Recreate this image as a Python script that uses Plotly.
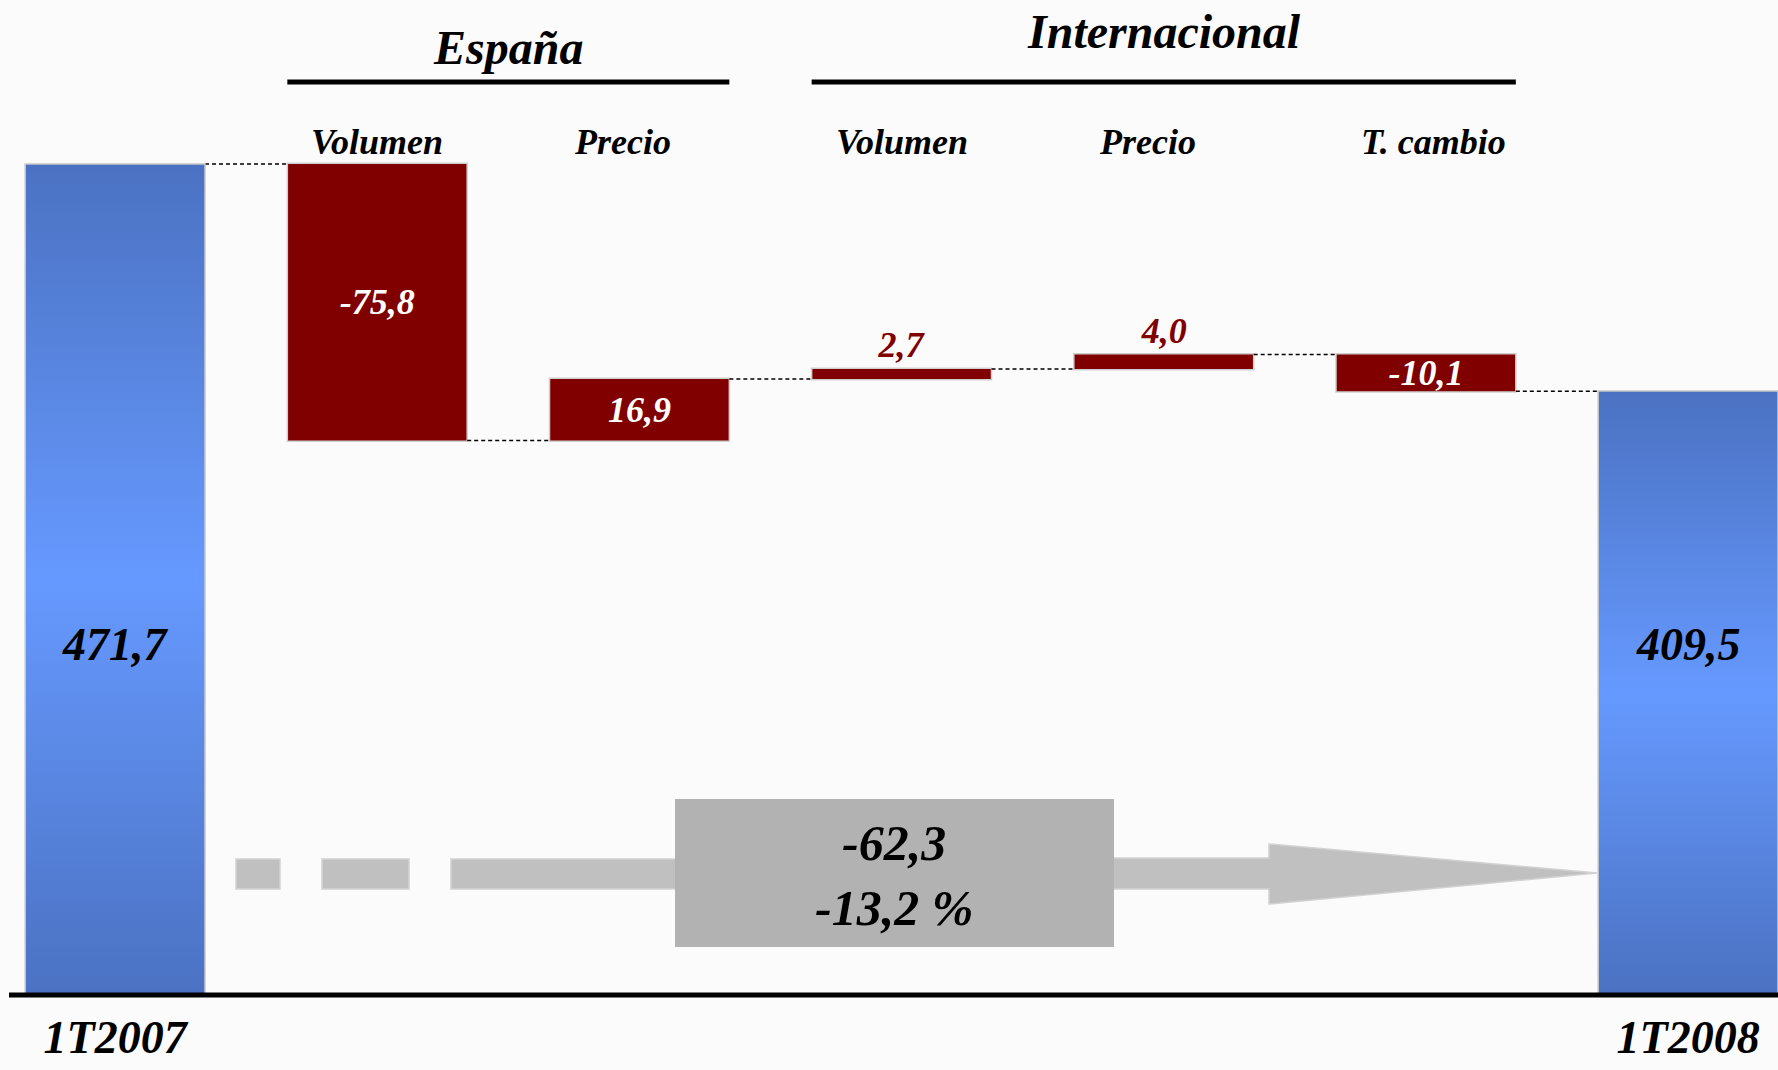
import plotly.graph_objects as go

# ---------------- data ----------------
CATEGORIES = ["1T2007", "Volumen", "Precio", "Volumen", "Precio", "T. cambio", "1T2008"]
START_VALUE = 471.7
CHANGES = [-75.8, 16.9, 2.7, 4.0, -10.1]
END_VALUE = 409.5
GROUPS = ["España", "Internacional"]
GROUP_MEMBERS = [[1, 2], [3, 4, 5]]
VARIATION = -62.3
VARIATION_PCT = -13.2

# ---------------- style / layout constants ----------------
W, H = 1778, 1070
MB = 76                     # bottom margin (room for the period labels)
PH = H - MB                 # plot height in px
BASE = 244.3                # value sitting on the baseline
Y_RANGE = [BASE, 516.6]
X_RANGE = [-0.439, 6.343]
BAR_W = 0.686
HW = BAR_W / 2
FONT = "Liberation Serif"
RED = "#800000"
BG = "#fcfbfb"
TOTAL_LABEL_Y = 340


def fmt(v):
    return f"{v:.1f}".replace(".", ",")


def xp(px):
    return px / W


def yp(py):
    return (PH - py) / PH


n = len(CATEGORIES)
xs = list(range(n))
measures = ["absolute"] + ["relative"] * len(CHANGES) + ["total"]
yvals = [START_VALUE] + CHANGES + [0]

texts = [""] + [fmt(c) for c in CHANGES] + [""]
# labels that fit inside the box stay inside (white); thin boxes get them above
positions = ["none"]
colors = ["white"]
for c in CHANGES:
    if abs(c) >= 9:
        positions.append("inside")
        colors.append("white")
    else:
        positions.append("outside")
        colors.append(RED)
positions.append("none")
colors.append("white")

fig = go.Figure()

fig.add_trace(go.Waterfall(
    x=xs, y=yvals, measure=measures,
    width=BAR_W,
    text=texts, textposition=positions,
    insidetextanchor="middle",
    constraintext="none",
    textfont=dict(family=FONT, size=36, color=colors, weight="bold", style="italic"),
    increasing=dict(marker=dict(color=RED, line=dict(color="#cfcfcf", width=1.5))),
    decreasing=dict(marker=dict(color=RED, line=dict(color="#cfcfcf", width=1.5))),
    totals=dict(marker=dict(color="rgba(0,0,0,0)", line=dict(width=0))),
    connector=dict(mode="between", line=dict(color="black", width=1.5, dash="4px,3px")),
    hoverinfo="skip",
    cliponaxis=False,
))

# gradient-filled total bars
for i, v in [(0, START_VALUE), (n - 1, END_VALUE)]:
    fig.add_trace(go.Scatter(
        x=[i - HW, i + HW, i + HW, i - HW, i - HW],
        y=[BASE, BASE, v, v, BASE],
        mode="lines", fill="toself",
        fillgradient=dict(type="vertical",
                          colorscale=[[0, "#4b72c2"], [0.5, "#6699ff"], [1, "#4b72c2"]]),
        line=dict(color="#c8c8c8", width=1.5),
        hoverinfo="skip",
    ))

annotations = []
shapes = []

# total labels
for i, v in [(0, START_VALUE), (n - 1, END_VALUE)]:
    annotations.append(dict(
        x=i, y=TOTAL_LABEL_Y, xref="x", yref="y", text=fmt(v), showarrow=False,
        font=dict(family=FONT, size=46, color="black", weight="bold", style="italic"),
    ))

# category labels above the columns
xshift = {1: 0, 2: -17, 3: 0, 4: -16, 5: 8}
for i in range(1, n - 1):
    annotations.append(dict(
        x=i, y=yp(142), xref="x", yref="paper", text=CATEGORIES[i], showarrow=False,
        xshift=xshift[i], yanchor="middle",
        font=dict(family=FONT, size=36, color="black", weight="bold", style="italic"),
    ))

# group headers with rules
group_y = [47, 31]
for g, members, gy in zip(GROUPS, GROUP_MEMBERS, group_y):
    x0 = min(members) - HW
    x1 = max(members) + HW
    shapes.append(dict(type="line", xref="x", yref="paper", x0=x0, x1=x1,
                       y0=yp(82), y1=yp(82), line=dict(color="black", width=5)))
    annotations.append(dict(
        x=(x0 + x1) / 2, y=yp(gy), xref="x", yref="paper", text=g, showarrow=False,
        yanchor="middle",
        font=dict(family=FONT, size=48, color="black", weight="bold", style="italic"),
    ))

# baseline rule
shapes.append(dict(type="line", xref="paper", yref="paper", x0=xp(9), x1=1,
                   y0=yp(995), y1=yp(995), line=dict(color="black", width=5)))

# grey variation arrow (dashes, shaft, head)
ARROW = "#c0c0c0"
ARROW_LINE = "#d2d2d2"
for a, b in [(236, 280), (322, 409), (451, 680)]:
    shapes.append(dict(type="rect", xref="paper", yref="paper",
                       x0=xp(a), x1=xp(b), y0=yp(889), y1=yp(859),
                       fillcolor=ARROW, line=dict(color=ARROW_LINE, width=1.5)))
pts = [(1110, 858), (1269, 858), (1269, 844), (1597, 873), (1269, 904), (1269, 889), (1110, 889)]
path = "M " + " L ".join(f"{xp(px):.5f},{yp(py):.5f}" for px, py in pts) + " Z"
shapes.append(dict(type="path", xref="paper", yref="paper", path=path,
                   fillcolor=ARROW, line=dict(color=ARROW_LINE, width=1.5)))
# variation box
shapes.append(dict(type="rect", xref="paper", yref="paper",
                   x0=xp(675), x1=xp(1114), y0=yp(947), y1=yp(799),
                   fillcolor="#b2b2b2", line=dict(width=0)))
annotations.append(dict(
    x=xp((675 + 1114) / 2), y=yp(875), xref="paper", yref="paper",
    text=f"{fmt(VARIATION)}<br>{fmt(VARIATION_PCT)} %", showarrow=False,
    yanchor="middle",
    font=dict(family=FONT, size=50, color="black", weight="bold", style="italic"),
))

fig.update_layout(
    width=W, height=H,
    margin=dict(l=0, r=0, t=0, b=MB, autoexpand=False),
    paper_bgcolor=BG, plot_bgcolor=BG,
    showlegend=False,
    shapes=shapes, annotations=annotations,
    xaxis=dict(range=X_RANGE, showgrid=False, zeroline=False, automargin=False,
               showline=False,
               tickvals=[0, n - 1], ticktext=[CATEGORIES[0], CATEGORIES[-1]],
               ticks="", ticklabelstandoff=12,
               tickfont=dict(family=FONT, size=46, color="black", weight="bold", style="italic")),
    yaxis=dict(range=Y_RANGE, visible=False, showgrid=False, zeroline=False, automargin=False),
)

fig.write_html(
    "out.html",
    config={"displayModeBar": False},
    post_script="document.body.style.margin='0';document.body.style.padding='0';"
                "document.body.style.overflow='hidden';"
                "document.body.style.background='" + BG + "';",
)
